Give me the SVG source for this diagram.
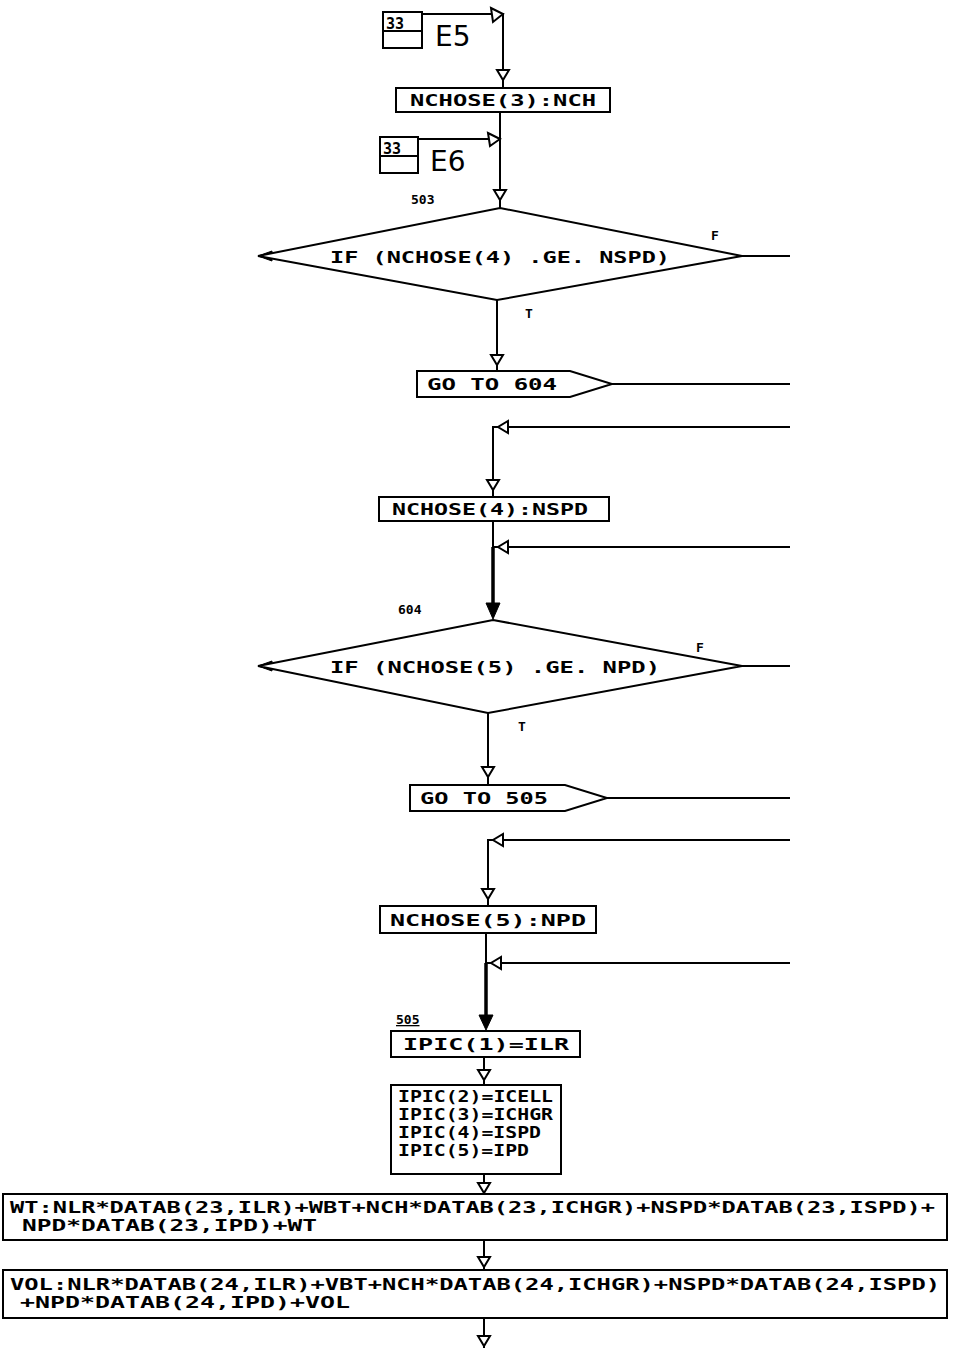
<svg xmlns="http://www.w3.org/2000/svg" width="962" height="1361" viewBox="0 0 962 1361">
<style>
.b{fill:#fff;stroke:#000;stroke-width:2}
.l{fill:none;stroke:#000;stroke-width:2}
.tk{fill:none;stroke:#000;stroke-width:3.5}
.ht{fill:#fff;stroke:#000;stroke-width:2}
.ft{fill:#000;stroke:#000;stroke-width:1}
.t{font-family:"DejaVu Sans Mono","Liberation Mono",monospace;font-weight:bold;font-size:15px;fill:#000}
.s{font-family:"DejaVu Sans Mono","Liberation Mono",monospace;font-weight:bold;font-size:13px;fill:#000}
.e{font-family:"DejaVu Sans","Liberation Sans",sans-serif;font-size:28px;fill:#000}
</style>
<rect width="962" height="1361" fill="#fff"/>
<g id="connectors">
<path class="l" d="M420 14 H503 V88"/>
<path class="l" d="M500 112 V138"/>
<path class="l" d="M416 139 H500 V208"/>
<path class="l" d="M742 256 H790"/>
<path class="l" d="M497 300 V371"/>
<path class="l" d="M612 384 H790"/>
<path class="l" d="M790 427 H493 V497"/>
<path class="l" d="M493 521 V547"/>
<path class="l" d="M790 547 H493"/>
<path class="tk" d="M493 547 V606"/>
<path class="l" d="M742 666 H790"/>
<path class="l" d="M488 713 V785"/>
<path class="l" d="M607 798 H790"/>
<path class="l" d="M790 840 H488 V906"/>
<path class="l" d="M486 933 V963"/>
<path class="l" d="M790 963 H486"/>
<path class="tk" d="M486 963 V1018"/>
<path class="l" d="M484 1057 V1085"/>
<path class="l" d="M484 1174 V1194"/>
<path class="l" d="M484 1240 V1270"/>
<path class="l" d="M484 1318 V1348"/>
<path class="ht" d="M491 8 L503 14 L493 22 Z"/>
<path class="ht" d="M497 70 H509 L503 80 Z"/>
<path class="ht" d="M488 133 L500 139 L490 146 Z"/>
<path class="ht" d="M494 190 H506 L500 200 Z"/>
<path class="ht" d="M491 355 H503 L497 365 Z"/>
<path class="ht" d="M508 421 V433 L498 427 Z"/>
<path class="ht" d="M487 480 H499 L493 490 Z"/>
<path class="ht" d="M508 541 V553 L498 547 Z"/>
<path class="ht" d="M482 767 H494 L488 777 Z"/>
<path class="ht" d="M503 834 V846 L493 840 Z"/>
<path class="ht" d="M482 889 H494 L488 899 Z"/>
<path class="ht" d="M501 957 V969 L491 963 Z"/>
<path class="ht" d="M478 1070 H490 L484 1080 Z"/>
<path class="ht" d="M478 1183 H490 L484 1193 Z"/>
<path class="ht" d="M478 1257 H490 L484 1267 Z"/>
<path class="ht" d="M478 1336 H490 L484 1346 Z"/>
<path class="ft" d="M486 603 H500 L493 619 Z"/>
<path class="ft" d="M479 1015 H493 L486 1030 Z"/>
<path class="ft" d="M258 256 L272 251 L272 261 Z"/>
<path class="ft" d="M258 666 L272 661 L272 671 Z"/>
</g>
<g id="E5">
<rect class="b" x="383" y="12" width="39" height="36"/>
<line class="l" x1="383" y1="31" x2="422" y2="31"/>
<text class="t" x="386" y="29" font-size="16">33</text>
<text class="e" x="435" y="46">E5</text>
</g>
<g id="n1">
<rect class="b" x="396" y="88" width="214" height="24"/>
<text class="t" x="410" y="106" textLength="186" lengthAdjust="spacingAndGlyphs">NCHOSE(3):NCH</text>
</g>
<g id="E6">
<rect class="b" x="380" y="137" width="38" height="36"/>
<line class="l" x1="380" y1="156" x2="418" y2="156"/>
<text class="t" x="383" y="154" font-size="16">33</text>
<text class="e" x="430" y="171">E6</text>
</g>
<g id="d1">
<text class="s" x="411" y="204">503</text>
<path class="b" d="M500 208 L742 256 L497 300 L258 256 Z"/>
<text class="t" x="330" y="263" textLength="340" lengthAdjust="spacingAndGlyphs">IF (NCHOSE(4) .GE. NSPD)</text>
<text class="s" x="711" y="240">F</text>
<text class="s" x="525" y="318">T</text>
</g>
<g id="g1">
<path class="b" d="M417 371 H570 L612 384 L570 397 H417 Z"/>
<text class="t" x="427" y="390" textLength="130" lengthAdjust="spacingAndGlyphs">GO TO 604</text>
</g>
<g id="n2">
<rect class="b" x="379" y="497" width="230" height="24"/>
<text class="t" x="392" y="515" textLength="196" lengthAdjust="spacingAndGlyphs">NCHOSE(4):NSPD</text>
</g>
<g id="d2">
<text class="s" x="398" y="614">604</text>
<path class="b" d="M493 620 L742 666 L488 713 L258 666 Z"/>
<text class="t" x="330" y="673" textLength="330" lengthAdjust="spacingAndGlyphs">IF (NCHOSE(5) .GE. NPD)</text>
<text class="s" x="696" y="652">F</text>
<text class="s" x="518" y="731">T</text>
</g>
<g id="g2">
<path class="b" d="M410 785 H565 L607 798 L565 811 H410 Z"/>
<text class="t" x="420" y="804" textLength="128" lengthAdjust="spacingAndGlyphs">GO TO 505</text>
</g>
<g id="n3">
<rect class="b" x="380" y="906" width="216" height="27"/>
<text class="t" x="390" y="926" textLength="196" lengthAdjust="spacingAndGlyphs">NCHOSE(5):NPD</text>
</g>
<g id="n4">
<text class="s" x="396" y="1024" text-decoration="underline">505</text>
<rect class="b" x="391" y="1031" width="189" height="26"/>
<text class="t" x="403" y="1050" textLength="166" lengthAdjust="spacingAndGlyphs">IPIC(1)=ILR</text>
</g>
<g id="n5">
<rect class="b" x="391" y="1085" width="170" height="89"/>
<text class="t" x="398" y="1102" textLength="155" lengthAdjust="spacingAndGlyphs">IPIC(2)=ICELL</text>
<text class="t" x="398" y="1120" textLength="155" lengthAdjust="spacingAndGlyphs">IPIC(3)=ICHGR</text>
<text class="t" x="398" y="1138" textLength="143" lengthAdjust="spacingAndGlyphs">IPIC(4)=ISPD</text>
<text class="t" x="398" y="1156" textLength="131" lengthAdjust="spacingAndGlyphs">IPIC(5)=IPD</text>
</g>
<g id="n6">
<rect class="b" x="3" y="1194" width="944" height="46"/>
<text class="t" x="10" y="1213" textLength="925" lengthAdjust="spacingAndGlyphs">WT:NLR*DATAB(23,ILR)+WBT+NCH*DATAB(23,ICHGR)+NSPD*DATAB(23,ISPD)+</text>
<text class="t" x="22" y="1231" textLength="295" lengthAdjust="spacingAndGlyphs">NPD*DATAB(23,IPD)+WT</text>
</g>
<g id="n7">
<rect class="b" x="3" y="1270" width="944" height="48"/>
<text class="t" x="10" y="1290" textLength="930" lengthAdjust="spacingAndGlyphs">VOL:NLR*DATAB(24,ILR)+VBT+NCH*DATAB(24,ICHGR)+NSPD*DATAB(24,ISPD)</text>
<text class="t" x="20" y="1308" textLength="330" lengthAdjust="spacingAndGlyphs">+NPD*DATAB(24,IPD)+VOL</text>
</g>
</svg>
